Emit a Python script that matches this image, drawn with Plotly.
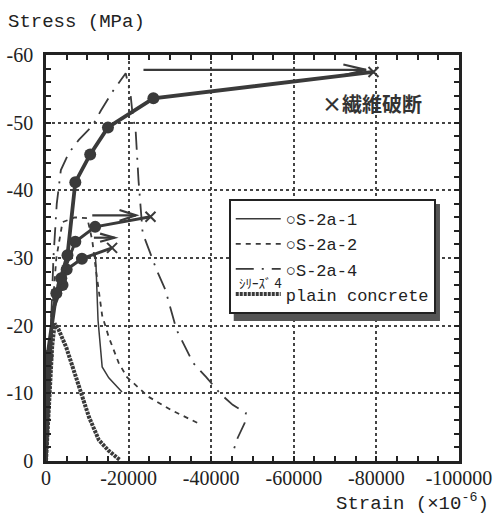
import plotly.graph_objects as go

# ---------------- data ----------------
# Curve with markers reaching fibre rupture (thick)
a_strain = [0, -360, -2500, -5200, -7100, -10700, -15000, -26000, -79300]
a_stress = [0, -15.5, -24.8, -30.4, -41.2, -45.3, -49.3, -53.6, -57.5]
a_mark = [0, 1, 1, 1, 1, 1, 1, 1, 0]

# Middle marker curve
b_strain = [0, -1500, -3700, -7100, -11900, -25300]
b_stress = [0, -22.0, -27.0, -32.4, -34.6, -36.1]
b_mark = [0, 0, 1, 1, 1, 0]

# Lower marker curve
c_strain = [0, -1500, -4000, -5000, -8700, -16000]
c_stress = [0, -22.0, -26.0, -28.3, -29.9, -31.5]
c_mark = [0, 0, 1, 1, 1, 0]

# S-2a-1 (thin solid) descending branch
s1_strain = [-11900, -12100, -12600, -13100, -13600, -15200, -18400]
s1_stress = [-30.5, -29.0, -20.8, -17.1, -13.9, -12.3, -10.2]

# S-2a-2 (short dash)
s2_strain = [0, -700, -1500, -2500, -4000, -7000, -10000, -11200, -12100, -13000,
             -13600, -15200, -17600, -19600, -22400, -24800, -30400, -36800]
s2_stress = [0, -12.0, -22.0, -30.0, -35.3, -36.0, -35.9, -32.6, -28.2, -24.0,
             -21.5, -18.3, -14.5, -12.4, -10.9, -9.5, -7.5, -5.6]

# S-2a-4 (long dash - dot)
s4_strain = [0, -500, -1200, -1800, -2600, -3600, -5500, -8000, -11200, -13300, -16000,
             -19300, -20500, -21000, -21700, -22400, -23400, -25600, -26800, -28900,
             -30100, -31600, -33500, -35600, -38800, -42100, -45200, -48400, -48100,
             -46400, -45200]
s4_stress = [0, -10.0, -20.0, -30.0, -38.0, -43.0, -45.5, -47.5, -49.5, -51.8, -54.5,
             -57.3, -54.0, -51.0, -48.9, -41.5, -33.7, -30.1, -28.2, -25.3,
             -22.7, -19.4, -17.1, -14.5, -12.4, -10.0, -8.3, -7.1, -5.6,
             -3.4, -1.2]

# plain concrete
pc_strain = [0, -800, -1500, -2100, -3000, -4900, -6400, -8000, -10400, -12800,
             -15200, -17200, -17800]
pc_stress = [0, -10.0, -17.0, -20.3, -19.5, -16.8, -14.0, -11.0, -6.5, -3.1,
             -1.5, -0.5, -0.2]

# rupture points (x marks)
end_strain = [-79300, -25300, -16000]
end_stress = [-57.5, -36.1, -31.5]

# arrows: start strain, tip strain, stress, head length (strain units), head half-height (MPa)
arrow_x0 = [-23600, -11200, -11600]
arrow_x1 = [-77500, -21800, -16600]
arrow_y = [-57.8, -36.3, -33.0]
arrow_hl = [5500, 4000, 3500]
arrow_hh = [0.8, 0.8, 0.6]

x_ticks = [0, -20000, -40000, -60000, -80000, -100000]
x_ticktext = ["0", "-20000", "-40000", "-60000", "-80000", "-100000"]
y_ticks = [0, -10, -20, -30, -40, -50, -60]
y_ticktext = ["0", "-10", "-20", "-30", "-40", "-50", "-60"]

# ---------------- figure ----------------
INK = "#3a3a3a"
SERIF = "Liberation Serif, Times New Roman, serif"
MONO = "Liberation Mono, Courier New, monospace"
fig = go.Figure()

fig.add_trace(go.Scatter(x=s1_strain, y=s1_stress, mode="lines", name="○S-2a-1",
                         line=dict(color=INK, width=1.5)))
fig.add_trace(go.Scatter(x=s2_strain, y=s2_stress, mode="lines", name="○S-2a-2",
                         line=dict(color=INK, width=1.8, dash="5px,5px")))
fig.add_trace(go.Scatter(x=s4_strain, y=s4_stress, mode="lines", name="○S-2a-4",
                         line=dict(color=INK, width=1.8, dash="18px,8px,2px,8px")))
fig.add_trace(go.Scatter(x=pc_strain, y=pc_stress, mode="lines", name="plain concrete",
                         line=dict(color=INK, width=4, dash="3px,1px")))

for xs, ys, mk, w in [(c_strain, c_stress, c_mark, 3), (b_strain, b_stress, b_mark, 3),
                      (a_strain, a_stress, a_mark, 3.8)]:
    fig.add_trace(go.Scatter(x=xs, y=ys, mode="lines", showlegend=False,
                             line=dict(color=INK, width=w)))
    fig.add_trace(go.Scatter(x=[x for x, m in zip(xs, mk) if m],
                             y=[y for y, m in zip(ys, mk) if m],
                             mode="markers", showlegend=False,
                             marker=dict(color=INK, size=12)))

fig.add_trace(go.Scatter(x=end_strain, y=end_stress, mode="markers", showlegend=False,
                         marker=dict(symbol="x-thin", size=10, line=dict(color=INK, width=2))))

for x0, x1, yv, hl, hh in zip(arrow_x0, arrow_x1, arrow_y, arrow_hl, arrow_hh):
    fig.add_shape(type="line", xref="x", yref="y", x0=x0, x1=x1, y0=yv, y1=yv,
                  line=dict(color=INK, width=2.2))
    fig.add_shape(type="path", xref="x", yref="y",
                  path=f"M{x1 + hl},{yv - hh} L{x1},{yv} L{x1 + hl},{yv + hh}",
                  line=dict(color=INK, width=2.2))

fig.add_annotation(x=-79000, y=-52.9, xref="x", yref="y", text="<b>×繊維破断</b>",
                   showarrow=False,
                   font=dict(family="Noto Sans CJK JP", size=20, color="#333"))

# axis titles
fig.add_annotation(x=-0.096, y=1.081, xref="paper", yref="paper", text="Stress (MPa)",
                   showarrow=False, xanchor="left", yanchor="middle",
                   font=dict(family=MONO, size=19, color="#222"))
fig.add_annotation(x=1.078, y=-0.102, xref="paper", yref="paper",
                   text="Strain (×10<sup>-6</sup>)",
                   showarrow=False, xanchor="right", yanchor="middle",
                   font=dict(family=MONO, size=19, color="#222"))

# "シリーズ 4" leftover legend text
fig.add_annotation(x=0.462, y=0.44, xref="paper", yref="paper", text="ｼﾘｰｽﾞ 4",
                   showarrow=False, xanchor="left", yanchor="middle",
                   font=dict(family="Noto Sans CJK JP", size=13, color="#222"))

# legend shadow
fig.add_shape(type="rect", xref="paper", yref="paper",
              x0=(234 - 46.5) / 412.5, x1=(440 - 46.5) / 412.5,
              y0=(461 - 321) / 406, y1=(461 - 204) / 406,
              fillcolor="#555", line=dict(width=0), layer="above")

axis_common = dict(showline=True, linewidth=2.5, linecolor="#222", mirror="allticks",
                   ticks="inside", ticklen=5, tickwidth=1.5, tickcolor="#222",
                   showgrid=True, gridcolor="#444", gridwidth=1.5, griddash="dot",
                   zeroline=False, automargin=False,
                   tickfont=dict(family=SERIF, size=20, color="#222"))

fig.update_xaxes(range=[0, -100000], tickvals=x_ticks, ticktext=x_ticktext,
                 ticklabelstandoff=-3,
                 minor=dict(dtick=5000, tick0=0, ticks="inside", ticklen=5,
                            tickcolor="#222", showgrid=False),
                 **axis_common)
fig.update_yaxes(range=[0, -60], tickvals=y_ticks, ticktext=y_ticktext,
                 ticklabelstandoff=6,
                 minor=dict(dtick=2, tick0=0, ticks="inside", ticklen=5,
                            tickcolor="#222", showgrid=False),
                 **axis_common)

fig.update_layout(
    width=497, height=516,
    margin=dict(l=46, r=38, t=55, b=55),
    paper_bgcolor="white", plot_bgcolor="white",
    showlegend=True,
    legend=dict(x=0.4425, y=0.645, xanchor="left", yanchor="top",
                bgcolor="white", bordercolor="#222", borderwidth=2,
                font=dict(family=MONO, size=17, color="#222"),
                itemwidth=45, tracegroupgap=0),
)

fig.write_html("out.html")
